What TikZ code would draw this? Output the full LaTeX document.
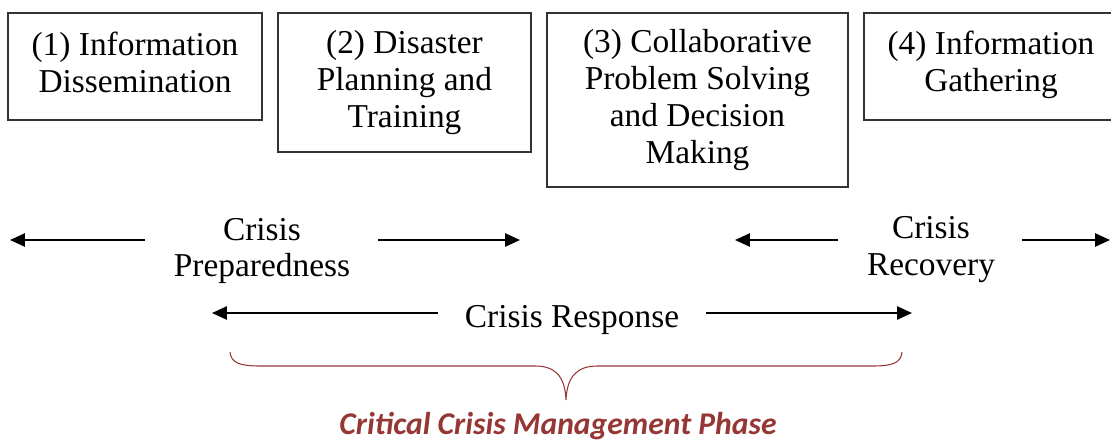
\documentclass[tikz,border=0pt]{standalone}
\usepackage{fontspec}
\setmainfont{Liberation Serif}
\newfontfamily\phasefont{Carlito}
\usetikzlibrary{arrows.meta}
\definecolor{phasered}{RGB}{149,55,53}
\tikzset{
	phasebox/.style={draw=black!80,line width=0.8pt,align=center,inner sep=0pt,font=\fontsize{19}{21}\selectfont},
	phaselabel/.style={align=center,inner sep=0pt,font=\fontsize{19}{21}\selectfont},
	phasearrow/.style={black,line width=1.1pt,-{Triangle[length=8.5pt,width=7.5pt]}},
}
\begin{document}
\begin{tikzpicture}
			\useasboundingbox (0,0) rectangle (22.22,8.82);
			% the four activities
			\node[phasebox,minimum width=5.08cm,minimum height=2.14cm,text depth=4.6pt](info) at (2.70,7.49){(1) Information\\Dissemination};
			\node[phasebox,minimum width=5.06cm,minimum height=2.78cm](plan) at (8.09,7.17){(2) Disaster\\Planning and\\Training};
			\node[phasebox,minimum width=6.02cm,minimum height=3.48cm](collab) at (13.95,6.82){(3) Collaborative\\Problem Solving\\and Decision\\Making};
			\node[phasebox,minimum width=5.08cm,minimum height=2.14cm,text depth=6pt](gather) at (19.82,7.49){(4) Information\\Gathering};
			% the phases
			\node[phaselabel](prep) at (5.24,3.80){Crisis\\Preparedness};
			\node[phaselabel](recov) at (18.62,3.83){Crisis\\Recovery};
			\node[phaselabel](resp) at (11.44,2.42){Crisis Response};
			\coordinate (prepL0) at (2.90,4.02);
			\coordinate (prepL1) at (0.20,4.02);
			\coordinate (prepR0) at (7.56,4.02);
			\coordinate (prepR1) at (10.40,4.02);
			\coordinate (recovL0) at (16.76,4.02);
			\coordinate (recovL1) at (14.70,4.02);
			\coordinate (recovR0) at (20.44,4.02);
			\coordinate (recovR1) at (22.20,4.02);
			\coordinate (respL0) at (8.76,2.56);
			\coordinate (respL1) at (4.24,2.56);
			\coordinate (respR0) at (14.12,2.56);
			\coordinate (respR1) at (18.24,2.56);
			\draw[phasearrow](prepL0)--(prepL1);
			\draw[phasearrow](prepR0)--(prepR1);
			\draw[phasearrow](recovL0)--(recovL1);
			\draw[phasearrow](recovR0)--(recovR1);
			\draw[phasearrow](respL0)--(respL1);
			\draw[phasearrow](respR0)--(respR1);
			% brace
			\draw[phasered,line width=0.6pt] (4.60,1.78) .. controls (4.62,1.56) and (4.80,1.50) .. (5.20,1.50) -- (10.70,1.50) .. controls (11.10,1.50) and (11.30,1.30) .. (11.32,0.82) .. controls (11.34,1.30) and (11.55,1.50) .. (11.95,1.50) -- (17.45,1.50) .. controls (17.85,1.50) and (18.02,1.56) .. (18.04,1.78);
			\node[text=phasered,inner sep=0pt,font=\phasefont\bfseries\itshape\fontsize{18}{20}\selectfont](crit) at (11.16,0.30){Critical Crisis Management Phase};
		\end{tikzpicture}
\end{document}
